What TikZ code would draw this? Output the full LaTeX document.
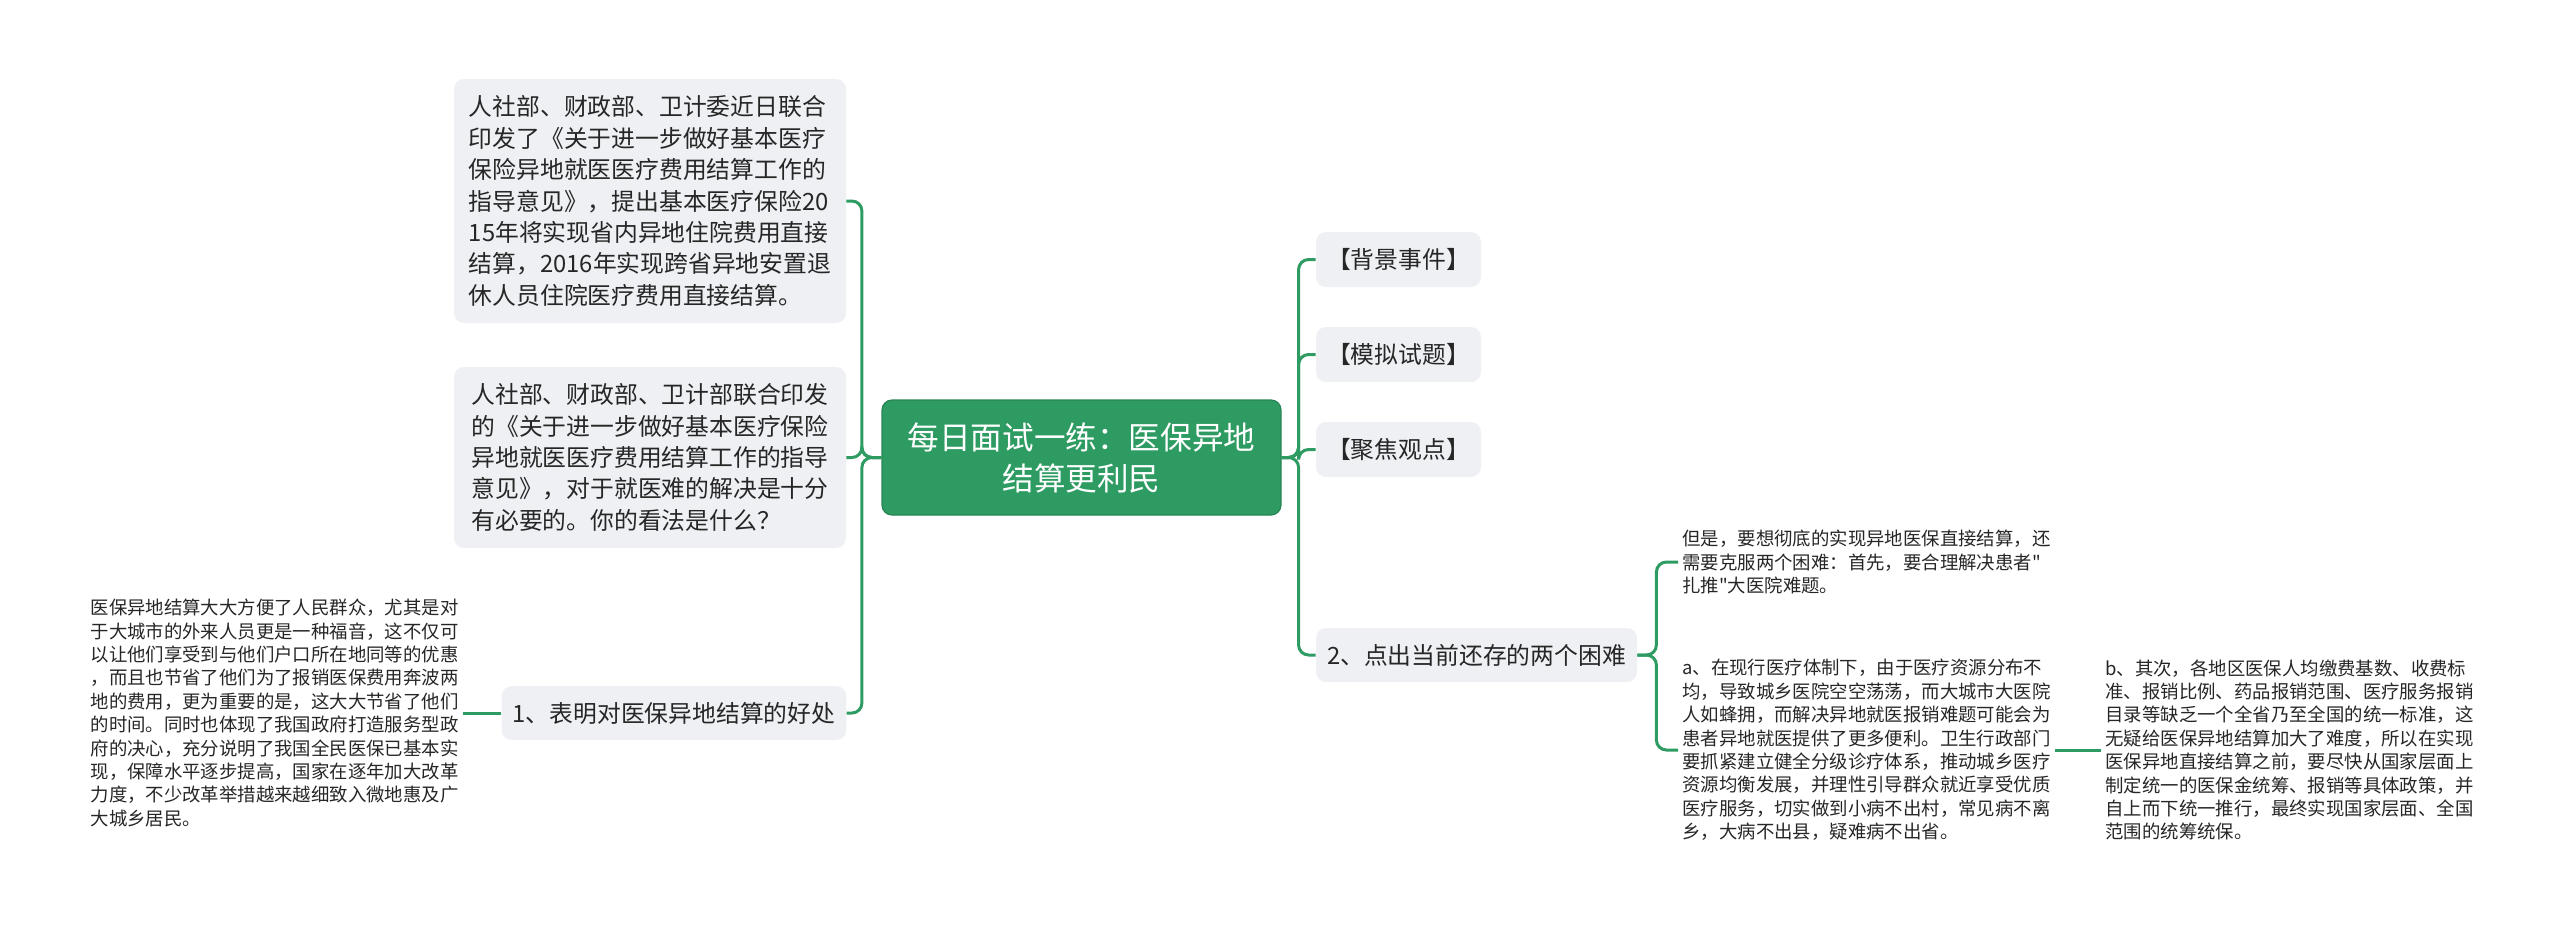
\documentclass[tikz,border=0pt]{standalone}
\usepackage{fontspec}
\setmainfont{Noto Sans CJK SC}[Ligatures=TeXOff]
\usepackage{xcolor}
\definecolor{mapGreen}{RGB}{46, 156, 98}
\definecolor{mapGrey}{RGB}{238, 240, 243}
\definecolor{mapText}{RGB}{38, 38, 38}
\usepackage{tikz}

\begin{document}
\begin{tikzpicture}[
    x=0.5pt, y=-0.5pt,
    rootTopic/.style={
        rectangle, rounded corners=5pt,
        draw=mapGreen!85!black, line width=0.6pt,
        fill=mapGreen, text=white,
        align=center, font=\fontsize{15.8}{20.5}\selectfont,
        inner sep=0pt, minimum width=199.5pt, minimum height=57.5pt
    },
    subTopic/.style={
        rectangle, rounded corners=5pt,
        fill=mapGrey, text=mapText,
        align=left, font=\fontsize{11.9}{15.7}\selectfont,
        inner xsep=5.5pt, inner ysep=0pt
    },
    noteText/.style={
        align=left, text=mapText,
        font=\fontsize{9.2}{11.7}\selectfont,
        inner xsep=2pt, inner ysep=0pt
    },
    mapLink/.style={
        draw=mapGreen, line width=1.5pt, rounded corners=5pt
    }
]
    \useasboundingbox (0,0) rectangle (2560,933);

    % Central topic
    \node[rootTopic] (root) at (1081.5,457.5) {每日面试一练：医保异地\\结算更利民};

    % Left branch
    \node[subTopic, minimum width=196pt, minimum height=122pt] (bgText) at (650,201) {人社部、财政部、卫计委近日联合\\
印发了《关于进一步做好基本医疗\\
保险异地就医医疗费用结算工作的\\
指导意见》，提出基本医疗保险20\\
15年将实现省内异地住院费用直接\\
结算，2016年实现跨省异地安置退\\
休人员住院医疗费用直接结算。};
    \node[subTopic, minimum width=196pt, minimum height=90.5pt] (questionText) at (650,457.5) {人社部、财政部、卫计部联合印发\\
的《关于进一步做好基本医疗保险\\
异地就医医疗费用结算工作的指导\\
意见》，对于就医难的解决是十分\\
有必要的。你的看法是什么？};
    \node[subTopic, minimum width=172pt, minimum height=27pt] (benefit) at (674,713) {1、表明对医保异地结算的好处};
    \node[noteText, anchor=east] (benefitNote) at (463,713) {医保异地结算大大方便了人民群众，尤其是对\\
于大城市的外来人员更是一种福音，这不仅可\\
以让他们享受到与他们户口所在地同等的优惠\\
，而且也节省了他们为了报销医保费用奔波两\\
地的费用，更为重要的是，这大大节省了他们\\
的时间。同时也体现了我国政府打造服务型政\\
府的决心，充分说明了我国全民医保已基本实\\
现，保障水平逐步提高，国家在逐年加大改革\\
力度，不少改革举措越来越细致入微地惠及广\\
大城乡居民。};

    % Right branch
    \node[subTopic, minimum width=82.5pt, minimum height=27.5pt] (bgEvent) at (1398.5,259.5) {【背景事件】};
    \node[subTopic, minimum width=82.5pt, minimum height=27.5pt] (mockQuestion) at (1398.5,354.5) {【模拟试题】};
    \node[subTopic, minimum width=82.5pt, minimum height=27.5pt] (focusView) at (1398.5,449.5) {【聚焦观点】};
    \node[subTopic, minimum width=160.5pt, minimum height=27pt] (difficulty) at (1476.5,655) {2、点出当前还存的两个困难};

    \node[noteText, anchor=west] (hardIntro) at (1678,562) {但是，要想彻底的实现异地医保直接结算，还\\
需要克服两个困难：首先，要合理解决患者"\\
扎推"大医院难题。};
    \node[noteText, anchor=west] (hardA) at (1678,750) {a、在现行医疗体制下，由于医疗资源分布不\\
均，导致城乡医院空空荡荡，而大城市大医院\\
人如蜂拥，而解决异地就医报销难题可能会为\\
患者异地就医提供了更多便利。卫生行政部门\\
要抓紧建立健全分级诊疗体系，推动城乡医疗\\
资源均衡发展，并理性引导群众就近享受优质\\
医疗服务，切实做到小病不出村，常见病不离\\
乡，大病不出县，疑难病不出省。};
    \node[noteText, anchor=west] (hardB) at (2101,750) {b、其次，各地区医保人均缴费基数、收费标\\
准、报销比例、药品报销范围、医疗服务报销\\
目录等缺乏一个全省乃至全国的统一标准，这\\
无疑给医保异地结算加大了难度，所以在实现\\
医保异地直接结算之前，要尽快从国家层面上\\
制定统一的医保金统筹、报销等具体政策，并\\
自上而下统一推行，最终实现国家层面、全国\\
范围的统筹统保。};

    % Left connectors
    \draw[mapLink] (root.west) -- ++(-19.5,0) |- (bgText.east);
    \draw[mapLink] (root.west) -- ++(-19.5,0) |- (questionText.east);
    \draw[mapLink] (root.west) -- ++(-19.5,0) |- (benefit.east);
    \draw[mapLink] (benefit.west) -- (benefitNote.east);

    % Right connectors
    \draw[mapLink] (root.east) -- ++(17,0) |- (bgEvent.west);
    \draw[mapLink] (root.east) -- ++(17,0) |- (mockQuestion.west);
    \draw[mapLink] (root.east) -- ++(17,0) |- (focusView.west);
    \draw[mapLink] (root.east) -- ++(17,0) |- (difficulty.west);
    \draw[mapLink] (difficulty.east) -- ++(19,0) |- (hardIntro.west);
    \draw[mapLink] (difficulty.east) -- ++(19,0) |- (hardA.west);
    \draw[mapLink] (hardA.east) -- (hardB.west);

\end{tikzpicture}
\end{document}
